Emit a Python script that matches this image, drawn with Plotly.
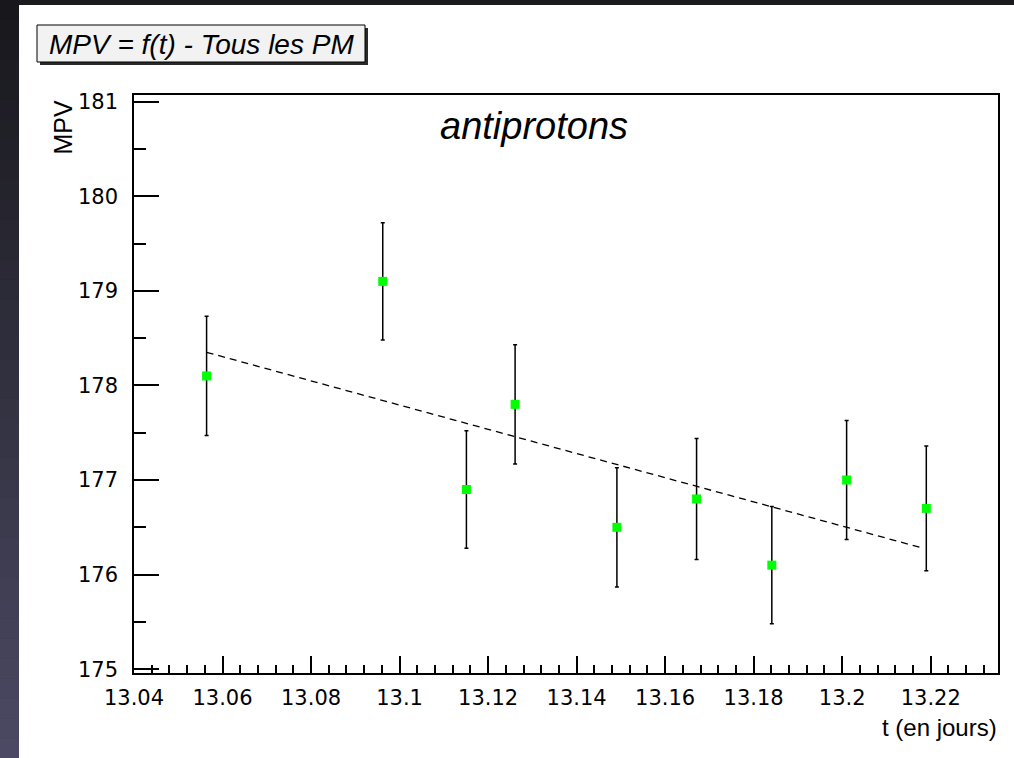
import plotly.graph_objects as go

# Measurements: time (days) and most-probable value with its uncertainty
t_days = [13.0564, 13.0962, 13.1151, 13.1261, 13.1491, 13.1671, 13.1841, 13.2010, 13.2190]
mpv = [178.1, 179.1, 176.9, 177.8, 176.5, 176.8, 176.1, 177.0, 176.7]
mpv_err = [0.63, 0.62, 0.62, 0.63, 0.63, 0.64, 0.62, 0.63, 0.66]

# Linear fit end points
fit_t = [13.0564, 13.2182]
fit_mpv = [178.35, 176.28]

# Axis ticks
x_tick_vals = [13.04, 13.06, 13.08, 13.10, 13.12, 13.14, 13.16, 13.18, 13.20, 13.22]
x_tick_text = ["13.04", "13.06", "13.08", "13.1", "13.12", "13.14", "13.16", "13.18", "13.2", "13.22"]
y_tick_vals = [175, 176, 177, 178, 179, 180, 181]
y_tick_text = ["175", "176", "177", "178", "179", "180", "181"]

x_range = [13.04, 13.2352]
y_range = [174.96, 181.07]

W, H = 1014, 758
ML, MR, MT, MB = 134, 16, 95, 85
PW, PH = W - ML - MR, H - MT - MB


def px(x):
    return (x - ML) / PW


def py(y):
    return (H - MB - y) / PH


def hexmix(c1, c2, f):
    a = [int(c1[i:i + 2], 16) for i in (1, 3, 5)]
    b = [int(c2[i:i + 2], 16) for i in (1, 3, 5)]
    return "#" + "".join(f"{round(a[k] + (b[k] - a[k]) * f):02x}" for k in range(3))


fig = go.Figure()

fig.add_trace(go.Scatter(
    x=fit_t, y=fit_mpv, mode="lines",
    line=dict(color="black", width=1.3, dash="7px,5px"),
    hoverinfo="skip", showlegend=False,
))

fig.add_trace(go.Scatter(
    x=t_days, y=mpv, mode="markers",
    marker=dict(symbol="square", size=9, color="#00ff00", line=dict(width=0)),
    error_y=dict(type="data", array=mpv_err, symmetric=True,
                 color="black", thickness=1.5, width=2),
    showlegend=False,
))

shapes = []
# window background around the canvas
shapes.append(dict(type="rect", xref="paper", yref="paper", layer="below",
                   x0=px(19), x1=px(W), y0=py(H), y1=py(5),
                   fillcolor="white", line=dict(width=0)))
bands = 38
for i in range(bands):
    y0 = i * H / bands
    y1 = (i + 1) * H / bands
    shapes.append(dict(type="rect", xref="paper", yref="paper", layer="below",
                       x0=px(0), x1=px(19), y0=py(y1 + 0.5), y1=py(y0),
                       fillcolor=hexmix("#17171b", "#4c4a64", (i + 0.5) / bands),
                       line=dict(width=0)))
# title box with drop shadow
shapes.append(dict(type="rect", xref="paper", yref="paper", layer="above",
                   x0=px(40), x1=px(368), y0=py(65), y1=py(28),
                   fillcolor="#2a2a2a", line=dict(width=0)))
shapes.append(dict(type="rect", xref="paper", yref="paper", layer="above",
                   x0=px(37), x1=px(365), y0=py(62), y1=py(25),
                   fillcolor="#f2f2f2", line=dict(color="black", width=1)))

annotations = [
    dict(text="<i>MPV = f(t) - Tous les PM</i>", xref="paper", yref="paper",
         x=px(201), y=py(44), xanchor="center", yanchor="middle", showarrow=False,
         font=dict(family="Liberation Sans", size=28, color="black")),
    dict(text="<i>antiprotons</i>", xref="paper", yref="paper",
         x=px(534), y=py(126), xanchor="center", yanchor="middle", showarrow=False,
         font=dict(family="Liberation Sans", size=38, color="black")),
    dict(text="t (en jours)", xref="paper", yref="paper",
         x=px(999), y=py(727), xanchor="right", yanchor="middle", showarrow=False,
         font=dict(family="Liberation Sans", size=24, color="black")),
    dict(text="MPV", xref="paper", yref="paper", textangle=-90,
         x=px(63), y=py(98), xanchor="center", yanchor="top", showarrow=False,
         font=dict(family="Liberation Sans", size=25, color="black")),
]

axis_font = dict(family="DejaVu Sans", size=21, color="black")

fig.update_layout(
    width=W, height=H,
    margin=dict(l=ML, r=MR, t=MT, b=MB, pad=0),
    paper_bgcolor="#1b1b1f", plot_bgcolor="white",
    shapes=shapes, annotations=annotations, showlegend=False,
    xaxis=dict(range=x_range, tickmode="array", tickvals=x_tick_vals, ticktext=x_tick_text,
               ticks="inside", ticklen=17, tickwidth=1.5, tickcolor="black",
               minor=dict(tickmode="linear", tick0=13.04, dtick=0.004, ticks="inside",
                          ticklen=8, tickwidth=1.5, tickcolor="black"),
               showline=True, linecolor="black", linewidth=1.5, mirror=True,
               showgrid=False, zeroline=False, tickfont=axis_font, ticklabelstandoff=5),
    yaxis=dict(range=y_range, tickmode="array", tickvals=y_tick_vals, ticktext=y_tick_text,
               ticks="inside", ticklen=25, tickwidth=1.5, tickcolor="black",
               minor=dict(tickmode="linear", tick0=175, dtick=0.5, ticks="inside",
                          ticklen=12, tickwidth=1.5, tickcolor="black"),
               showline=True, linecolor="black", linewidth=1.5, mirror=True,
               showgrid=False, zeroline=False, tickfont=axis_font, ticklabelstandoff=10),
)

fig.write_html("out.html")
